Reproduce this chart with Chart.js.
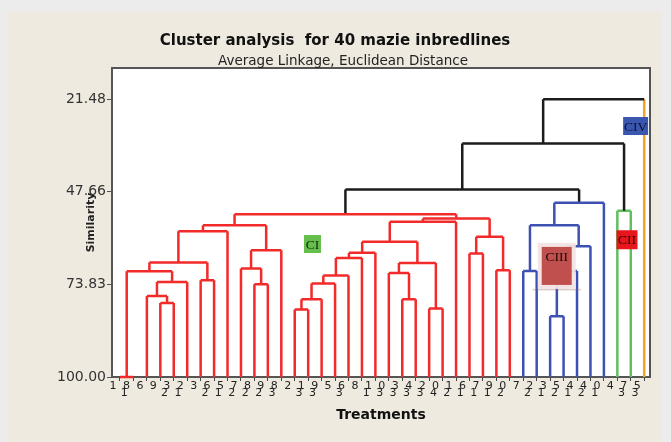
<!DOCTYPE html>
<html>
<head>
<meta charset="utf-8">
<title>Cluster analysis for 40 mazie inbredlines</title>
<script src="https://cdn.jsdelivr.net/npm/chart.js@4.4.1/dist/chart.umd.min.js"></script>
<style>
  html, body { margin: 0; padding: 0; background: #ececec; }
  #wrap { width: 671px; height: 442px; position: relative; }
</style>
</head>
<body>
<div id="wrap"><canvas id="dendro"></canvas></div>
<script>
// treatment number of each leaf, left to right
const leafLabels = [1, 18, 6, 9, 23, 12, 3, 26, 15, 27, 28, 29, 38, 2, 31, 39, 5, 36, 8, 11,
                    30, 33, 34, 32, 40, 21, 16, 17, 19, 20, 7, 22, 13, 25, 14, 24, 10, 4, 37, 35];

// clusters in leaf order and how many leaves each one holds
const clusterNames = ['CI', 'CIII', 'CII', 'CIV'];
const clusterSizes = [30, 7, 2, 1];

// merges: [child a, child b, similarity]; leaves are 0..39, merge k becomes node 40+k
const merges = [
  [3, 4, 79.06], [2, 40, 77.08], [41, 5, 73.12], [0, 1, 100.00], [43, 42, 70.09],
  [6, 7, 72.64], [44, 45, 67.63], [46, 8, 58.77], [10, 11, 73.77], [9, 48, 69.33],
  [49, 12, 64.15], [47, 50, 57.07], [13, 14, 80.93], [52, 15, 78.01], [53, 16, 73.57],
  [54, 17, 71.31], [55, 18, 66.33], [56, 19, 64.91], [21, 22, 78.01], [20, 58, 70.57],
  [23, 24, 80.64], [59, 60, 67.74], [57, 61, 61.80], [62, 25, 56.14], [26, 27, 65.08],
  [28, 29, 69.81], [64, 65, 60.38], [63, 66, 55.18], [51, 67, 53.96], [30, 31, 70.01],
  [32, 33, 82.82], [70, 34, 70.01], [71, 35, 63.02], [69, 72, 57.07], [73, 36, 50.76],
  [68, 74, 46.97], [37, 38, 53.03], [75, 76, 33.96], [77, 39, 21.48]
];

const yTicks = [21.48, 47.66, 73.83, 100.00];

const lineColors = { CI: '#f22a2a', CIII: '#3d51b3', CII: '#62bf5e', CIV: '#f5a12e' };
const linkBlack = '#1c1c1c';

// cluster tags placed in data coordinates (leaf index, similarity)
const tags = [
  { text: 'CI',   x: 14.32, y: 62.4,  w: 17, h: 18, fill: '#66bf4d', color: '#15230c' },
  { text: 'CII',  x: 37.72, y: 61.2,  w: 21, h: 19, fill: '#e8161c', color: '#1a0404' },
  { text: 'CIII', x: 32.49, y: 68.6,  w: 30, h: 38, fill: '#c0504d', color: '#1a0808', halo: true, dy: -9 },
  { text: 'CIV',  x: 38.36, y: 29.05, w: 25, h: 18, fill: '#3a57b0', color: '#0b1433' }
];

// build the dendrogram links
const nLeaf = leafLabels.length;
const leafCluster = [];
clusterNames.forEach((c, i) => { for (let k = 0; k < clusterSizes[i]; k++) leafCluster.push(c); });

const nx = [], nh = [], nc = [];
for (let i = 0; i < nLeaf; i++) { nx[i] = i; nh[i] = 100; nc[i] = leafCluster[i]; }

const buckets = {};
const addPath = (col, pts) => {
  (buckets[col] = buckets[col] || []).push(...pts, { x: null, y: null });
};
merges.forEach(([a, b, h], k) => {
  const id = nLeaf + k;
  nx[id] = (nx[a] + nx[b]) / 2;
  nh[id] = h;
  nc[id] = nc[a] === nc[b] ? nc[a] : null;
  addPath(nc[id] ? lineColors[nc[id]] : linkBlack, [{ x: nx[a], y: h }, { x: nx[b], y: h }]);
  [a, b].forEach(c => {
    const col = nc[c] && (c < nLeaf || nc[c] === nc[id]) ? lineColors[nc[c]] : linkBlack;
    addPath(col, [{ x: nx[c], y: nh[c] }, { x: nx[c], y: h }]);
  });
});

const datasets = Object.keys(buckets).map(col => ({
  data: buckets[col],
  borderColor: col,
  borderWidth: 2.5,
  pointRadius: 0,
  tension: 0,
  spanGaps: false,
  clip: 4
}));

const decor = {
  id: 'decor',
  beforeDraw(chart) {
    const { ctx, chartArea: a } = chart;
    ctx.save();
    ctx.fillStyle = '#ececec';
    ctx.fillRect(0, 0, chart.width, chart.height);
    ctx.fillStyle = '#eeeae0';
    ctx.fillRect(8, 12, 654, 430);
    ctx.fillStyle = '#ffffff';
    ctx.fillRect(a.left, a.top, a.right - a.left, a.bottom - a.top);
    ctx.restore();
  },
  beforeDatasetsDraw(chart) {
    const { ctx, chartArea: a } = chart;
    ctx.save();
    ctx.strokeStyle = '#555';
    ctx.lineWidth = 2;
    ctx.strokeRect(a.left, a.top, a.right - a.left, a.bottom - a.top);
    ctx.restore();
  },
  afterDatasetsDraw(chart) {
    const { ctx, scales: { x, y } } = chart;
    ctx.save();
    ctx.font = '13.5px "Liberation Serif"';
    ctx.textAlign = 'center';
    ctx.textBaseline = 'middle';
    tags.forEach(t => {
      const cx = x.getPixelForValue(t.x), cy = y.getPixelForValue(t.y);
      if (t.halo) {
        ctx.fillStyle = 'rgba(150,110,110,0.35)';
        ctx.fillRect(cx - t.w / 2 - 9, cy + t.h / 2 + 4, t.w + 18, 1.5);
        ctx.fillStyle = 'rgba(242,228,228,0.95)';
        ctx.fillRect(cx - t.w / 2 - 4, cy - t.h / 2 - 4, t.w + 8, t.h + 8);
      }
      ctx.fillStyle = t.fill;
      ctx.fillRect(cx - t.w / 2, cy - t.h / 2, t.w, t.h);
      ctx.fillStyle = t.color;
      ctx.fillText(t.text, cx, cy + (t.dy || 0) + 1);
    });
    ctx.restore();
  },
  afterDraw(chart) {
    const { ctx } = chart;
    ctx.save();
    ctx.textAlign = 'center';
    ctx.textBaseline = 'middle';
    ctx.fillStyle = '#111';
    ctx.font = 'bold 15px "DejaVu Sans"';
    ctx.fillText('Cluster analysis  for 40 mazie inbredlines', 335, 41);
    ctx.fillStyle = '#222';
    ctx.font = '13.5px "DejaVu Sans"';
    ctx.fillText('Average Linkage, Euclidean Distance', 343, 61.5);
    ctx.restore();
  }
};

new Chart(document.getElementById('dendro'), {
  type: 'line',
  data: { datasets },
  plugins: [decor],
  options: {
    responsive: true,
    maintainAspectRatio: false,
    animation: false,
    layout: { padding: { top: 68, right: 21, bottom: 0, left: 0 } },
    plugins: { legend: { display: false }, tooltip: { enabled: false } },
    scales: {
      x: {
        type: 'linear',
        min: -0.595,
        max: 39.43,
        afterBuildTicks: s => { s.ticks = leafLabels.map((_, i) => ({ value: i })); },
        afterFit: s => { s.height = 65; },
        ticks: {
          autoSkip: false, maxRotation: 0, minRotation: 0, align: 'end', padding: 1,
          font: { family: 'DejaVu Sans', size: 11, lineHeight: 0.7 },
          color: '#222',
          callback: v => {
            const s = String(leafLabels[v]);
            return s.length < 2 ? s + ' ' : [s[1] + ' ', s[0] + ' \u2009'];
          }
        },
        grid: { drawOnChartArea: false, tickLength: 4, color: '#444' },
        border: { display: true, color: '#555', width: 2 },
        title: {
          display: true, text: 'Treatments', color: '#111',
          font: { family: 'DejaVu Sans', size: 14, weight: 'bold' },
          padding: { top: 0, bottom: 18 }
        }
      },
      y: {
        type: 'linear',
        reverse: true,
        min: 12.65,
        max: 100,
        afterBuildTicks: s => { s.ticks = yTicks.map(v => ({ value: v })); },
        afterFit: s => { s.width = 112; },
        ticks: {
          callback: v => Number(v).toFixed(2),
          font: { family: 'DejaVu Sans', size: 14 },
          color: '#333',
          padding: 1
        },
        grid: { drawOnChartArea: false, tickLength: 5, color: '#555' },
        border: { display: true, color: '#555', width: 2 },
        title: {
          display: true, text: 'Similarity', color: '#222',
          font: { family: 'DejaVu Sans', size: 11, weight: 'bold' },
          padding: { top: 85, bottom: 0 }
        }
      }
    }
  }
});
</script>
</body>
</html>
